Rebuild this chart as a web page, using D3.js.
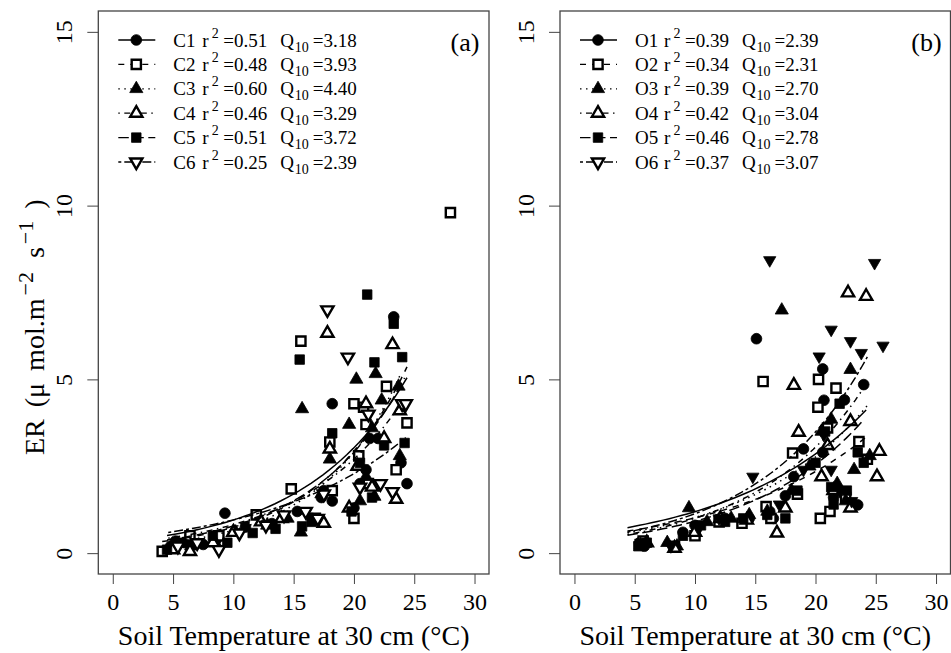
<!DOCTYPE html>
<html>
<head>
<meta charset="utf-8">
<script src="https://cdn.jsdelivr.net/npm/d3@7"></script>
<style>
  body { margin: 0; background: #fff; }
  svg { font-family: "Liberation Serif", "Times New Roman", serif; }
</style>
</head>
<body>
<svg id="chart" width="951" height="653"></svg>
<script>
// ---- data (temperature °C, ER) ----
const c1 = [[4.8,0.2],[5.2,0.35],[6.0,0.3],[7.5,0.25],[8.6,0.4],[9.3,1.15],[11.0,0.75],[13.2,0.85],[15.3,1.2],[16.5,1.0],[17.3,1.6],[17.5,1.8],[18.2,4.3],[18.2,1.5],[20.0,1.3],[20.5,2.0],[21.0,2.4],[21.3,3.3],[22.0,3.3],[23.3,6.8],[23.9,2.6],[24.4,2.0]];
const c2 = [[4.1,0.05],[6.4,0.5],[8.8,0.5],[11.9,1.1],[14.8,1.85],[15.6,6.1],[16.8,1.0],[18.0,3.2],[18.2,1.8],[20.0,4.3],[20.0,1.0],[20.4,2.8],[20.8,4.2],[21.0,3.7],[21.2,2.0],[22.7,4.8],[23.5,2.4],[24.4,3.75],[28.0,9.8]];
const c3 = [[5.0,0.15],[6.5,0.2],[8.5,0.3],[10.2,0.6],[12.8,0.8],[14.5,1.0],[15.6,0.6],[15.7,4.15],[17.3,1.7],[18.0,2.7],[19.6,3.7],[20.2,5.0],[20.5,1.5],[21.0,2.2],[21.5,3.6],[21.7,1.63],[21.8,5.16],[22.3,4.4],[23.7,4.8],[23.8,2.8]];
const c4 = [[5.0,0.1],[6.4,0.05],[8.3,0.3],[10.0,0.6],[12.3,0.9],[14.0,1.0],[17.5,0.86],[17.8,6.33],[18.0,3.0],[19.6,1.3],[20.3,2.5],[21.0,4.3],[21.5,1.9],[22.5,3.3],[23.2,6.0],[23.5,1.55],[23.8,4.1]];
const c5 = [[4.5,0.1],[5.5,0.3],[8.3,0.5],[9.5,0.3],[11.6,0.58],[13.5,0.7],[15.5,5.57],[15.7,0.77],[16.5,0.9],[18.2,3.45],[19.8,1.2],[20.5,2.6],[21.1,7.44],[21.5,1.6],[21.7,5.49],[22.5,3.1],[23.3,6.6],[24.0,5.64],[24.2,3.17]];
const c6 = [[5.4,0.2],[7.0,0.3],[8.8,0.1],[10.5,0.58],[12.7,0.8],[14.2,1.1],[16.0,1.2],[17.0,1.0],[17.8,7.0],[17.5,1.7],[19.5,5.64],[20.5,1.9],[21.2,4.0],[22.2,2.0],[23.2,1.77],[24.0,4.3],[24.3,4.3]];

const o1 = [[5.4,0.3],[5.8,0.2],[9.0,0.6],[10.0,0.8],[12.5,1.0],[14.5,1.0],[15.1,6.17],[16.2,1.2],[16.5,1.0],[17.5,1.65],[18.2,2.2],[19.0,3.0],[20.6,2.9],[20.7,4.4],[20.6,5.3],[21.5,1.6],[22.4,4.41],[23.5,1.39],[24.0,4.85]];
const o2 = [[5.7,0.35],[8.3,0.2],[10.0,0.5],[12.0,0.9],[13.9,0.86],[15.65,4.94],[15.9,1.34],[16.3,1.0],[18.1,2.88],[18.5,1.7],[20.2,4.2],[20.25,5.0],[20.4,1.0],[21.0,3.6],[21.7,4.75],[21.2,1.2],[22.5,1.6],[23.6,3.21],[24.3,2.7]];
const o3 = [[5.5,0.25],[7.7,0.3],[8.5,0.2],[9.5,1.3],[11.0,0.9],[13.0,1.0],[14.5,1.1],[16.0,1.2],[17.2,6.99],[18.0,1.8],[19.5,2.5],[20.5,3.5],[21.3,3.85],[21.8,2.0],[22.9,5.28],[23.2,2.4],[24.5,2.8],[22.5,1.5]];
const o4 = [[6.0,0.3],[8.3,0.14],[10.0,0.6],[12.1,1.0],[14.3,0.95],[16.8,0.58],[17.5,1.3],[18.2,4.83],[18.6,3.48],[20.5,2.2],[21.0,3.1],[21.5,1.8],[22.7,7.49],[22.9,3.79],[22.9,1.3],[24.2,7.39],[25.3,2.93],[25.1,2.2]];
const o5 = [[5.3,0.2],[6.0,0.3],[9.0,0.5],[10.5,0.8],[12.5,0.9],[14.0,1.0],[16.0,1.1],[17.5,1.0],[18.5,1.8],[20.0,2.6],[20.8,3.5],[21.3,1.9],[21.5,1.4],[22.0,4.3],[22.6,1.8],[23.5,2.9],[24.0,2.6]];
const o6 = [[5.5,0.3],[8.0,0.2],[10.3,0.7],[12.0,1.0],[14.8,2.2],[16.2,8.43],[17.0,1.4],[19.0,2.4],[20.3,5.66],[20.7,3.4],[21.3,6.43],[21.3,2.4],[22.0,1.8],[22.9,6.1],[23.8,5.76],[24.9,8.35],[25.6,5.97],[23.0,1.5]];

// fit statistics shown in legends, fitted ER = a * Q10^(T/10)
const namesA = ["C1","C2","C3","C4","C5","C6"];
const r2A    = ["0.51","0.48","0.60","0.46","0.51","0.25"];
const q10A   = [3.18, 3.93, 4.40, 3.29, 3.72, 2.39];
const baseA  = [0.30, 0.19, 0.15, 0.25, 0.21, 0.40];
const tSpanA = [[4.5,24.4],[4.1,24.4],[4.6,23.8],[4.6,24.0],[4.5,24.2],[4.6,24.3]];

const namesB = ["O1","O2","O3","O4","O5","O6"];
const r2B    = ["0.39","0.34","0.39","0.42","0.46","0.37"];
const q10B   = [2.39, 2.31, 2.70, 3.04, 2.78, 3.07];
const baseB  = [0.50, 0.44, 0.38, 0.33, 0.33, 0.37];
const tSpanB = [[4.4,24.2],[4.4,24.3],[4.4,24.5],[4.4,24.3],[4.4,24.0],[4.4,24.3]];

const xTicks = [0, 5, 10, 15, 20, 25, 30];
const yTicks = [0, 5, 10, 15];

// ---- drawing ----
const svg = d3.select("#chart");
const FONT = '"Liberation Serif", "Times New Roman", serif';
const plotTop = 11, plotBottom = 574;

// marker styles, R pch 16, 0, 17, 2, 15, 6
const marks = [
  { type: d3.symbolCircle,   size: 90, fill: true,  rot: 0 },
  { type: d3.symbolSquare,   size: 85, fill: false, rot: 0 },
  { type: d3.symbolTriangle, size: 75, fill: true,  rot: 0 },
  { type: d3.symbolTriangle, size: 65, fill: false, rot: 0 },
  { type: d3.symbolSquare,   size: 90, fill: true,  rot: 0 },
  { type: d3.symbolTriangle, size: 65, fill: false, rot: 180 }
];
// R lty 1..6
const dashes = [null, "6,6", "1.5,4.5", "1.5,4.5,6,4.5", "10.5,4.5", "3,3,9,3"];

function drawMark(g, m, cx, cy, filledOverride) {
  const filled = filledOverride === undefined ? m.fill : filledOverride;
  g.append("path")
    .attr("d", d3.symbol().type(m.type).size(m.size)())
    .attr("transform", `translate(${cx},${cy}) rotate(${m.rot})`)
    .attr("fill", filled ? "#000" : "#fff")
    .attr("stroke", "#000")
    .attr("stroke-width", filled ? 0.8 : 2.4);
}

function drawPanel(opt) {
  const x = d3.scaleLinear().domain([-1.2, 31.2]).range([opt.left, opt.right]);
  const y = d3.scaleLinear().domain([-0.6, 15.6]).range([plotBottom, plotTop]);
  const g = svg.append("g");

  // axes
  g.append("g")
    .attr("transform", `translate(0,${plotBottom})`)
    .call(d3.axisBottom(x).tickValues(xTicks).tickSize(10).tickSizeOuter(0))
    .call(a => a.select(".domain").remove())
    .call(a => a.selectAll("line").attr("stroke", "#444"))
    .call(a => a.selectAll("text")
      .attr("y", 19)
      .attr("font-family", FONT).attr("font-size", 24).attr("fill", "#000"));

  g.append("g")
    .attr("transform", `translate(${opt.left},0)`)
    .call(d3.axisLeft(y).tickValues(yTicks).tickSize(11).tickSizeOuter(0))
    .call(a => a.select(".domain").remove())
    .call(a => a.selectAll("line").attr("stroke", "#444"))
    .call(a => a.selectAll("text")
      .attr("transform", "rotate(-90)")
      .attr("x", 0).attr("y", -26).attr("dy", 0)
      .attr("text-anchor", "middle")
      .attr("font-family", FONT).attr("font-size", 24).attr("fill", "#000"));

  // box
  g.append("rect")
    .attr("x", opt.left).attr("y", plotTop)
    .attr("width", opt.right - opt.left).attr("height", plotBottom - plotTop)
    .attr("fill", "none").attr("stroke", "#444").attr("stroke-width", 1.3);

  // points
  opt.series.forEach((s, i) => {
    const m = marks[i];
    s.forEach(d => drawMark(g, m, x(d[0]), y(d[1]),
      (opt.filledLast && i === 5) ? true : undefined));
  });

  // fitted exponential curves
  const line = d3.line().x(d => x(d[0])).y(d => y(d[1]));
  opt.series.forEach((s, i) => {
    const [t0, t1] = opt.tSpan[i];
    const pts = d3.range(0, 41).map(k => {
      const t = t0 + (t1 - t0) * k / 40;
      return [t, opt.base[i] * Math.pow(opt.q10[i], t / 10)];
    });
    g.append("path")
      .attr("d", line(pts))
      .attr("fill", "none").attr("stroke", "#000").attr("stroke-width", 1.5)
      .attr("stroke-dasharray", dashes[i]);
  });

  // legend
  const lx = opt.left + 20, ly = 40, step = 24.4;
  opt.names.forEach((nm, i) => {
    const cy = ly + i * step;
    g.append("line")
      .attr("x1", lx).attr("x2", lx + 37).attr("y1", cy).attr("y2", cy)
      .attr("stroke", "#000").attr("stroke-width", 1.3)
      .attr("stroke-dasharray", dashes[i]);
    drawMark(g, marks[i], lx + 18, cy);

    const t = g.append("text")
      .attr("y", cy + 6.5)
      .attr("font-family", FONT).attr("font-size", 19);
    const tx = lx + 55;
    t.append("tspan").attr("x", tx).text(nm);
    t.append("tspan").attr("x", tx + 29).text("r");
    t.append("tspan").attr("x", tx + 38.5).attr("dy", -9).attr("font-size", 14).text("2");
    t.append("tspan").attr("x", tx + 50).attr("dy", 9).text("=" + opt.r2[i]);
    t.append("tspan").attr("x", tx + 107).text("Q");
    t.append("tspan").attr("x", tx + 121.5).attr("dy", 5).attr("font-size", 14).text("10");
    t.append("tspan").attr("x", tx + 139.5).attr("dy", -5).text("=" + opt.q10[i].toFixed(2));
  });

  // panel tag
  g.append("text")
    .attr("x", opt.right - 24).attr("y", 51)
    .attr("text-anchor", "middle")
    .attr("font-family", FONT).attr("font-size", 26)
    .text(opt.tag);

  // x title
  g.append("text")
    .attr("x", (opt.left + opt.right) / 2).attr("y", 645)
    .attr("text-anchor", "middle")
    .attr("font-family", FONT).attr("font-size", 28)
    .text("Soil Temperature at 30 cm (°C)");
}

drawPanel({ left: 98.3, right: 489, series: [c1, c2, c3, c4, c5, c6],
  names: namesA, r2: r2A, q10: q10A, base: baseA, tSpan: tSpanA, tag: "(a)" });
drawPanel({ left: 560, right: 950.5, series: [o1, o2, o3, o4, o5, o6],
  names: namesB, r2: r2B, q10: q10B, base: baseB, tSpan: tSpanB, tag: "(b)", filledLast: true });

// y title, plotmath-like spacing, starting at the bottom ("ER")
const yt = svg.append("text")
  .attr("transform", "translate(44,455) rotate(-90)")
  .attr("text-anchor", "start")
  .attr("font-family", FONT).attr("font-size", 28);
yt.append("tspan").attr("x", 0).text("ER");
yt.append("tspan").attr("dx", 12).text("(\u03bc");
yt.append("tspan").attr("dx", 12).text("mol.m");
yt.append("tspan").attr("dx", 3).attr("dy", -11).attr("font-size", 22).text("\u22122");
yt.append("tspan").attr("dx", 14).attr("dy", 11).text("s");
yt.append("tspan").attr("dx", 3).attr("dy", -11).attr("font-size", 22).text("\u22121");
yt.append("tspan").attr("dx", 12).attr("dy", 11).text(")");
</script>
</body>
</html>
